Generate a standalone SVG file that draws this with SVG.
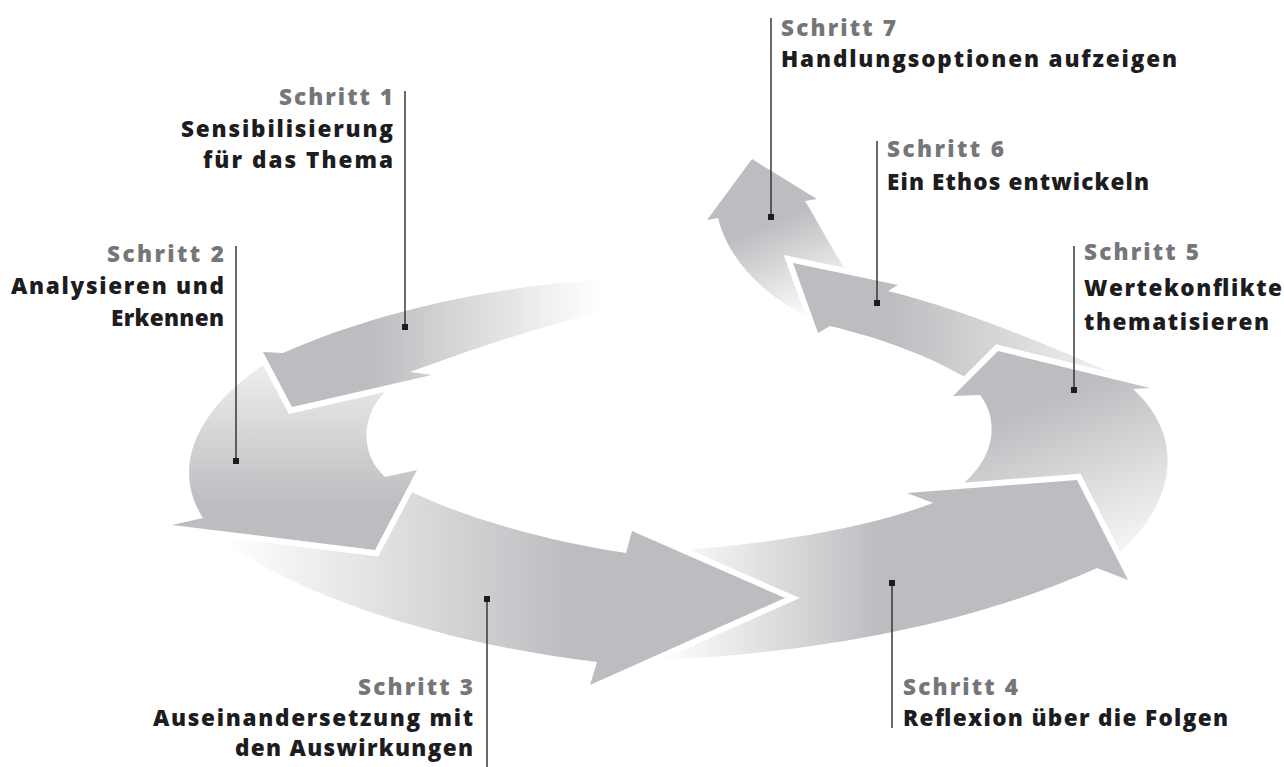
<svg xmlns="http://www.w3.org/2000/svg" width="1284" height="767" viewBox="0 0 1284 767">
<style>
.arrow{stroke:#ffffff;stroke-width:12;stroke-linejoin:miter;stroke-miterlimit:6;paint-order:stroke}
.lead{stroke:#2b2a2c;stroke-width:1.4;fill:none}
.dot{fill:#1d1c1e}
text{font-family:"Open Sans","Noto Sans","Liberation Sans",sans-serif;font-weight:800;font-size:22.5px}
.st{fill:#75767a}
.tx{fill:#1d1c1f}
</style>
<defs>
<linearGradient id="g1" gradientUnits="userSpaceOnUse" x1="370" y1="0" x2="600" y2="0"><stop offset="0" stop-color="#bcbdc0"/><stop offset="1" stop-color="#ffffff"/></linearGradient>
<linearGradient id="g2" gradientUnits="userSpaceOnUse" x1="0" y1="370" x2="0" y2="505"><stop offset="0" stop-color="#ececed"/><stop offset="1" stop-color="#bcbdc0"/></linearGradient>
<linearGradient id="g3" gradientUnits="userSpaceOnUse" x1="225" y1="0" x2="570" y2="0"><stop offset="0" stop-color="#ffffff"/><stop offset="1" stop-color="#bcbdc0"/></linearGradient>
<linearGradient id="g4" gradientUnits="userSpaceOnUse" x1="675" y1="0" x2="880" y2="0"><stop offset="0" stop-color="#fbfbfb"/><stop offset="1" stop-color="#bcbdc0"/></linearGradient>
<linearGradient id="g5" gradientUnits="userSpaceOnUse" x1="1060" y1="395" x2="1125" y2="560"><stop offset="0" stop-color="#bcbdc0"/><stop offset="1" stop-color="#f8f8f8"/></linearGradient>
<linearGradient id="g6" gradientUnits="userSpaceOnUse" x1="890" y1="0" x2="1150" y2="0"><stop offset="0" stop-color="#bcbdc0"/><stop offset="1" stop-color="#fafafa"/></linearGradient>
<linearGradient id="g7" gradientUnits="userSpaceOnUse" x1="765" y1="225" x2="805" y2="318"><stop offset="0" stop-color="#bcbdc0"/><stop offset="1" stop-color="#fdfdfd"/></linearGradient>
</defs>
<rect width="1284" height="767" fill="#ffffff"/>
<g id="step7-arrow"><path class="arrow" fill="url(#g7)" d="M718,218 C730,265 770,300 818,322 L858,290 C835,255 820,225 805,201 L817,199 L752,159 L707,220 Z"/></g>
<g id="step6-arrow"><path class="arrow" fill="url(#g6)" d="M830,326 C880,338 940,358 990,393 L1150,389 C1085,362 985,315 888,291 L898,285 L793,263 L818,333 Z"/></g>
<g id="step5-arrow"><path class="arrow" fill="url(#g5)" d="M933,503 L1097,568 C1160,530 1200,450 1133,389 L1150,388 L998,351 L953,396 L980,395 C1000,420 1000,470 933,503 Z"/></g>
<g id="step4-arrow"><path class="arrow" fill="url(#g4)" d="M626,553 L597,662 C780,660 960,630 1097,568 L1128,580 L1077,480 L907,493 L933,503 C850,535 720,550 626,553 Z"/></g>
<g id="step3-arrow"><path class="arrow" fill="url(#g3)" d="M203,518 C245,575 410,640 597,662 L590,685 L785,598 L632,531 L626,553 C540,540 440,512 385,477 Z"/></g>
<g id="step2-arrow"><path class="arrow" fill="url(#g2)" d="M283,353 C225,385 160,450 203,518 L172,525 L375,550 L417,470 L385,477 C355,450 360,400 410,372 Z"/></g>
<g id="step1-arrow"><path class="arrow" fill="url(#g1)" d="M612,279 C500,285 380,310 283,353 L263,352 L292,407 L432,375 L410,372 C470,350 540,326 612,309 Z"/></g>
<g id="connectors">
<line class="lead" x1="405" y1="91" x2="405" y2="327"/><rect class="dot" x="402" y="324" width="6" height="6"/>
<line class="lead" x1="236" y1="246" x2="236" y2="461"/><rect class="dot" x="233" y="458" width="6" height="6"/>
<line class="lead" x1="487" y1="599" x2="487" y2="767"/><rect class="dot" x="484" y="596" width="6" height="6"/>
<line class="lead" x1="892" y1="583" x2="892" y2="728"/><rect class="dot" x="889" y="580" width="6" height="6"/>
<line class="lead" x1="1074" y1="246" x2="1074" y2="390"/><rect class="dot" x="1071" y="387" width="6" height="6"/>
<line class="lead" x1="877" y1="141" x2="877" y2="303"/><rect class="dot" x="874" y="300" width="6" height="6"/>
<line class="lead" x1="771" y1="18" x2="771" y2="217"/><rect class="dot" x="768" y="214" width="6" height="6"/>
</g>
<g id="step1-label" text-anchor="end">
<text class="st" x="393" y="105" textLength="114" lengthAdjust="spacing">Schritt 1</text>
<text class="tx" x="393" y="137" textLength="212" lengthAdjust="spacing">Sensibilisierung</text>
<text class="tx" x="393" y="168" textLength="190" lengthAdjust="spacing">für das Thema</text>
</g>
<g id="step2-label" text-anchor="end">
<text class="st" x="224" y="262" textLength="117" lengthAdjust="spacing">Schritt 2</text>
<text class="tx" x="224" y="294" textLength="213" lengthAdjust="spacing">Analysieren und</text>
<text class="tx" x="224" y="326" textLength="113" lengthAdjust="spacing">Erkennen</text>
</g>
<g id="step3-label" text-anchor="end">
<text class="st" x="473" y="695" textLength="115" lengthAdjust="spacing">Schritt 3</text>
<text class="tx" x="473" y="725.5" textLength="320" lengthAdjust="spacing">Auseinandersetzung mit</text>
<text class="tx" x="473" y="756" textLength="238" lengthAdjust="spacing">den Auswirkungen</text>
</g>
<g id="step4-label">
<text class="st" x="903" y="695" textLength="115" lengthAdjust="spacing">Schritt 4</text>
<text class="tx" x="903" y="725.5" textLength="325" lengthAdjust="spacing">Reflexion über die Folgen</text>
</g>
<g id="step5-label">
<text class="st" x="1084" y="260" textLength="115" lengthAdjust="spacing">Schritt 5</text>
<text class="tx" x="1084" y="296" textLength="198" lengthAdjust="spacing">Wertekonflikte</text>
<text class="tx" x="1084" y="330" textLength="185" lengthAdjust="spacing">thematisieren</text>
</g>
<g id="step6-label">
<text class="st" x="887" y="157" textLength="117" lengthAdjust="spacing">Schritt 6</text>
<text class="tx" x="887" y="190" textLength="262" lengthAdjust="spacing">Ein Ethos entwickeln</text>
</g>
<g id="step7-label">
<text class="st" x="781" y="36" textLength="115" lengthAdjust="spacing">Schritt 7</text>
<text class="tx" x="781" y="67" textLength="396" lengthAdjust="spacing">Handlungsoptionen aufzeigen</text>
</g>
</svg>
